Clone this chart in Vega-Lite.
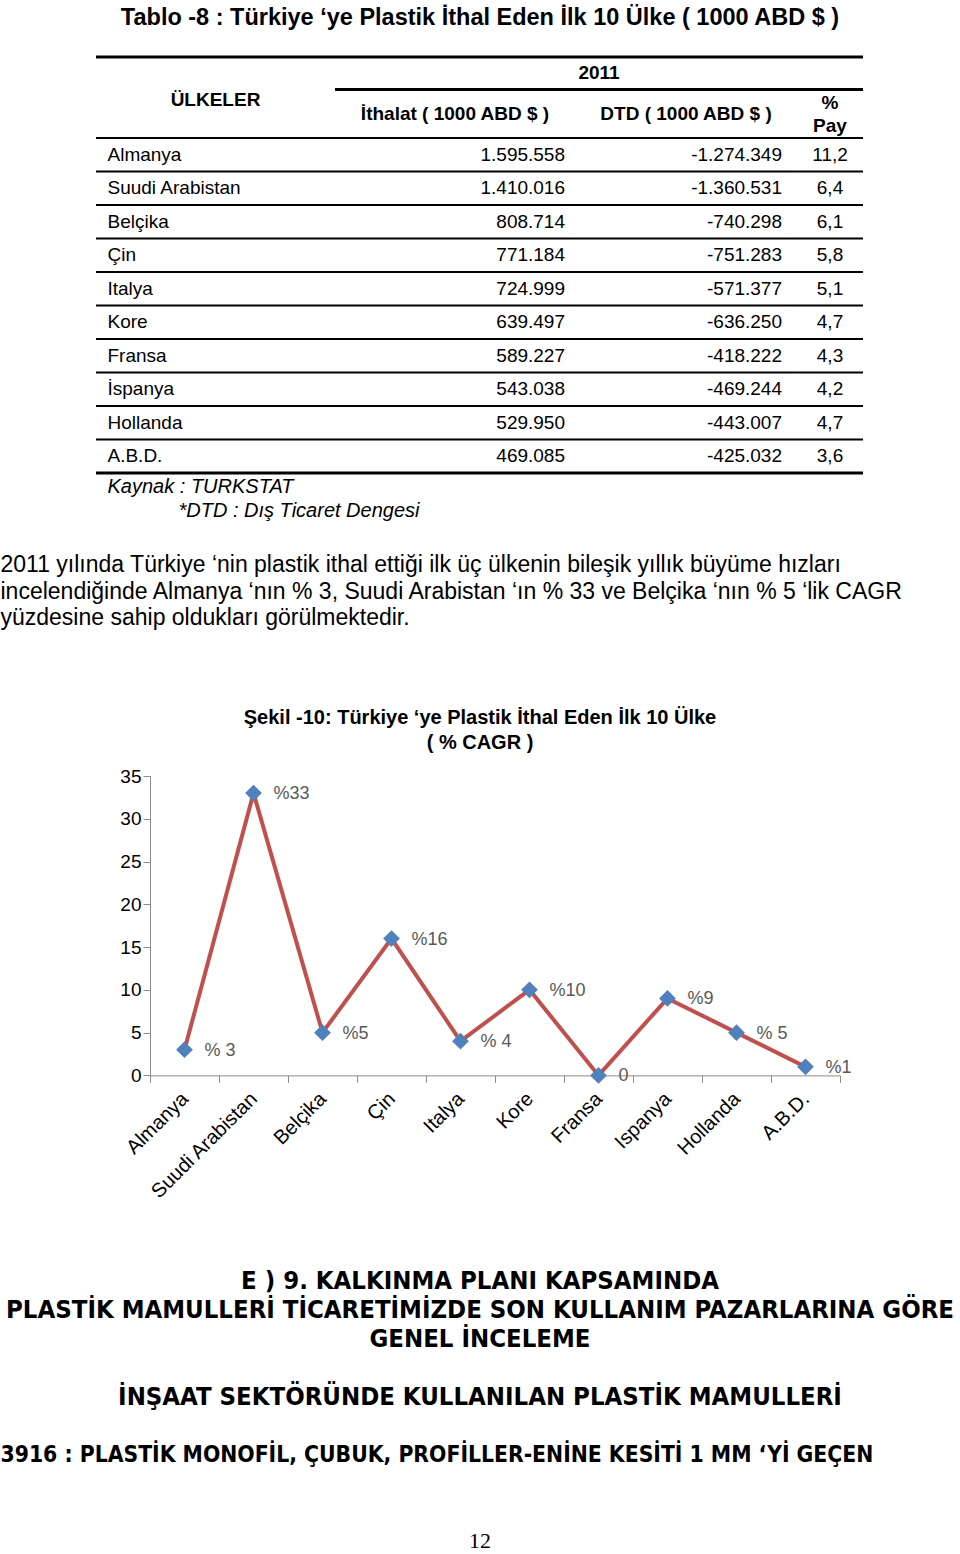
{
  "$schema": "https://vega.github.io/schema/vega-lite/v6.json",
  "background": "#ffffff",
  "padding": 0,
  "spacing": 0,
  "config": {
    "view": {"stroke": null},
    "font": "Liberation Sans",
    "locale": {"number": {"decimal": ",", "thousands": ".", "grouping": [3], "currency": ["", ""], "minus": "-"}},
    "text": {"color": "#000000", "font": "Liberation Sans"},
    "rule": {"color": "#000000"},
    "axis": {"labelFont": "Liberation Sans", "labelColor": "#000000", "grid": false, "title": null}
  },
  "datasets": {
    "tablo": [
      {"ulke": "Almanya", "ithalat": 1595558, "dtd": -1274349, "pay": 11.2},
      {"ulke": "Suudi Arabistan", "ithalat": 1410016, "dtd": -1360531, "pay": 6.4},
      {"ulke": "Belçika", "ithalat": 808714, "dtd": -740298, "pay": 6.1},
      {"ulke": "Çin", "ithalat": 771184, "dtd": -751283, "pay": 5.8},
      {"ulke": "Italya", "ithalat": 724999, "dtd": -571377, "pay": 5.1},
      {"ulke": "Kore", "ithalat": 639497, "dtd": -636250, "pay": 4.7},
      {"ulke": "Fransa", "ithalat": 589227, "dtd": -418222, "pay": 4.3},
      {"ulke": "İspanya", "ithalat": 543038, "dtd": -469244, "pay": 4.2},
      {"ulke": "Hollanda", "ithalat": 529950, "dtd": -443007, "pay": 4.7},
      {"ulke": "A.B.D.", "ithalat": 469085, "dtd": -425032, "pay": 3.6}
    ],
    "cagr": [
      {"ulke": "Almanya", "cagr": 3, "etiket": "% 3"},
      {"ulke": "Suudi Arabistan", "cagr": 33, "etiket": "%33"},
      {"ulke": "Belçika", "cagr": 5, "etiket": "%5"},
      {"ulke": "Çin", "cagr": 16, "etiket": "%16"},
      {"ulke": "Italya", "cagr": 4, "etiket": "% 4"},
      {"ulke": "Kore", "cagr": 10, "etiket": "%10"},
      {"ulke": "Fransa", "cagr": 0, "etiket": "0"},
      {"ulke": "Ispanya", "cagr": 9, "etiket": "%9"},
      {"ulke": "Hollanda", "cagr": 5, "etiket": "% 5"},
      {"ulke": "A.B.D.", "cagr": 1, "etiket": "%1"}
    ]
  },
  "vconcat": [
    {
      "width": 960, "height": 36,
      "data": {"values": [{"baslik": "Tablo -8 : Türkiye ‘ye Plastik İthal Eden İlk 10 Ülke ( 1000 ABD $ )"}]},
      "mark": {"type": "text", "fontSize": 23.5, "fontWeight": "bold"},
      "encoding": {"text": {"field": "baslik"}}
    },
    {"width": 1, "height": 18.5, "data": {"values": [{}]}, "mark": "text", "encoding": {"text": {"value": ""}}},
    {
      "spacing": 0, "bounds": "flush",
      "hconcat": [
        {"width": 96, "height": 32.5, "data": {"values": [{}]}, "mark": "text", "encoding": {"text": {"value": ""}}},
        {
          "width": 239, "height": 32.5,
          "data": {"values": [{"baslik": "ÜLKELER"}]},
          "mark": {"type": "rule", "strokeWidth": 3},
          "encoding": {"y": {"field": "baslik", "type": "nominal", "axis": null, "bandPosition": 0, "scale": {"type": "band", "paddingInner": 0, "paddingOuter": 0}}}
        },
        {
          "width": 528, "height": 32.5,
          "data": {"values": [{"baslik": "2011"}]},
          "encoding": {"y": {"field": "baslik", "type": "nominal", "axis": null, "scale": {"type": "band", "paddingInner": 0, "paddingOuter": 0}}},
          "layer": [
            {"mark": {"type": "text", "fontSize": 19, "fontWeight": "bold"}, "encoding": {"text": {"field": "baslik"}}},
            {"mark": {"type": "rule", "strokeWidth": 3}, "encoding": {"y": {"field": "baslik", "type": "nominal", "axis": null, "bandPosition": 0, "scale": {"type": "band", "paddingInner": 0, "paddingOuter": 0}}}},
            {"mark": {"type": "rule", "strokeWidth": 3}, "encoding": {"y": {"field": "baslik", "type": "nominal", "axis": null, "bandPosition": 1, "scale": {"type": "band", "paddingInner": 0, "paddingOuter": 0}}}}
          ]
        }
      ]
    },
    {
      "spacing": 0, "bounds": "flush",
      "hconcat": [
        {"width": 96, "height": 46, "data": {"values": [{}]}, "mark": "text", "encoding": {"text": {"value": ""}}},
        {
          "width": 239, "height": 46,
          "data": {"values": [{"baslik": "ÜLKELER"}]},
          "mark": {"type": "text", "fontSize": 19, "fontWeight": "bold", "dy": -14},
          "encoding": {"text": {"field": "baslik"}}
        },
        {
          "width": 240, "height": 46,
          "data": {"values": [{"baslik": "İthalat ( 1000 ABD $ )"}]},
          "mark": {"type": "text", "fontSize": 19, "fontWeight": "bold"},
          "encoding": {"text": {"field": "baslik"}}
        },
        {
          "width": 222, "height": 46,
          "data": {"values": [{"baslik": "DTD ( 1000 ABD $ )"}]},
          "mark": {"type": "text", "fontSize": 19, "fontWeight": "bold"},
          "encoding": {"text": {"field": "baslik"}}
        },
        {
          "width": 66, "height": 46,
          "data": {"values": [{"baslik": "%"}, {"baslik": "Pay"}]},
          "mark": {"type": "text", "fontSize": 19, "fontWeight": "bold"},
          "encoding": {
            "y": {"field": "baslik", "type": "nominal", "sort": null, "axis": null, "scale": {"type": "band", "paddingInner": 0, "paddingOuter": 0}},
            "text": {"field": "baslik"}
          }
        }
      ]
    },
    {
      "spacing": 0, "bounds": "flush",
      "data": {"name": "tablo"},
      "hconcat": [
        {"width": 96, "height": 335, "data": {"values": [{}]}, "mark": "text", "encoding": {"text": {"value": ""}}},
        {
          "width": 239, "height": 335,
          "layer": [
            {"mark": {"type": "rule", "strokeWidth": 2},
             "encoding": {"y": {"field": "ulke", "type": "nominal", "bandPosition": 0,
               "scale": {"type": "band", "domain": ["Almanya", "Suudi Arabistan", "Belçika", "Çin", "Italya", "Kore", "Fransa", "İspanya", "Hollanda", "A.B.D."], "paddingInner": 0, "paddingOuter": 0},
               "axis": {"orient": "left", "domain": false, "ticks": false, "labelAlign": "left", "labelBaseline": "middle", "labelPadding": -11, "labelFontSize": 19, "labelColor": "#000000", "labelOverlap": false, "minExtent": 0, "maxExtent": 0, "labelLimit": 300}}}},
            {"transform": [{"filter": "datum.ulke === 'A.B.D.'"}],
             "mark": {"type": "rule", "strokeWidth": 3},
             "encoding": {"y": {"field": "ulke", "type": "nominal", "bandPosition": 1,
               "scale": {"type": "band", "domain": ["Almanya", "Suudi Arabistan", "Belçika", "Çin", "Italya", "Kore", "Fransa", "İspanya", "Hollanda", "A.B.D."], "paddingInner": 0, "paddingOuter": 0},
               "axis": {"orient": "left", "domain": false, "ticks": false, "labelAlign": "left", "labelBaseline": "middle", "labelPadding": -11, "labelFontSize": 19, "labelColor": "#000000", "labelOverlap": false, "minExtent": 0, "maxExtent": 0, "labelLimit": 300}}}}
          ]
        },
        {
          "width": 230, "height": 335,
          "layer": [
            {"mark": {"type": "rule", "strokeWidth": 2}, "encoding": {"y": {"field": "ulke", "type": "nominal", "bandPosition": 0, "axis": null, "scale": {"type": "band", "domain": ["Almanya", "Suudi Arabistan", "Belçika", "Çin", "Italya", "Kore", "Fransa", "İspanya", "Hollanda", "A.B.D."], "paddingInner": 0, "paddingOuter": 0}}}},
            {"transform": [{"filter": "datum.ulke === 'A.B.D.'"}], "mark": {"type": "rule", "strokeWidth": 3}, "encoding": {"y": {"field": "ulke", "type": "nominal", "bandPosition": 1, "axis": null, "scale": {"type": "band", "domain": ["Almanya", "Suudi Arabistan", "Belçika", "Çin", "Italya", "Kore", "Fransa", "İspanya", "Hollanda", "A.B.D."], "paddingInner": 0, "paddingOuter": 0}}}},
            {"mark": {"type": "text", "align": "right", "x": "width", "fontSize": 19}, "encoding": {"y": {"field": "ulke", "type": "nominal", "axis": null, "scale": {"type": "band", "domain": ["Almanya", "Suudi Arabistan", "Belçika", "Çin", "Italya", "Kore", "Fransa", "İspanya", "Hollanda", "A.B.D."], "paddingInner": 0, "paddingOuter": 0}}, "text": {"field": "ithalat", "type": "quantitative", "format": ",d"}}}
          ]
        },
        {
          "width": 10, "height": 335,
          "layer": [
            {"mark": {"type": "rule", "strokeWidth": 2}, "encoding": {"y": {"field": "ulke", "type": "nominal", "bandPosition": 0, "axis": null, "scale": {"type": "band", "domain": ["Almanya", "Suudi Arabistan", "Belçika", "Çin", "Italya", "Kore", "Fransa", "İspanya", "Hollanda", "A.B.D."], "paddingInner": 0, "paddingOuter": 0}}}},
            {"transform": [{"filter": "datum.ulke === 'A.B.D.'"}], "mark": {"type": "rule", "strokeWidth": 3}, "encoding": {"y": {"field": "ulke", "type": "nominal", "bandPosition": 1, "axis": null, "scale": {"type": "band", "domain": ["Almanya", "Suudi Arabistan", "Belçika", "Çin", "Italya", "Kore", "Fransa", "İspanya", "Hollanda", "A.B.D."], "paddingInner": 0, "paddingOuter": 0}}}}
          ]
        },
        {
          "width": 207, "height": 335,
          "layer": [
            {"mark": {"type": "rule", "strokeWidth": 2}, "encoding": {"y": {"field": "ulke", "type": "nominal", "bandPosition": 0, "axis": null, "scale": {"type": "band", "domain": ["Almanya", "Suudi Arabistan", "Belçika", "Çin", "Italya", "Kore", "Fransa", "İspanya", "Hollanda", "A.B.D."], "paddingInner": 0, "paddingOuter": 0}}}},
            {"transform": [{"filter": "datum.ulke === 'A.B.D.'"}], "mark": {"type": "rule", "strokeWidth": 3}, "encoding": {"y": {"field": "ulke", "type": "nominal", "bandPosition": 1, "axis": null, "scale": {"type": "band", "domain": ["Almanya", "Suudi Arabistan", "Belçika", "Çin", "Italya", "Kore", "Fransa", "İspanya", "Hollanda", "A.B.D."], "paddingInner": 0, "paddingOuter": 0}}}},
            {"mark": {"type": "text", "align": "right", "x": "width", "fontSize": 19}, "encoding": {"y": {"field": "ulke", "type": "nominal", "axis": null, "scale": {"type": "band", "domain": ["Almanya", "Suudi Arabistan", "Belçika", "Çin", "Italya", "Kore", "Fransa", "İspanya", "Hollanda", "A.B.D."], "paddingInner": 0, "paddingOuter": 0}}, "text": {"field": "dtd", "type": "quantitative", "format": ",d"}}}
          ]
        },
        {
          "width": 15, "height": 335,
          "layer": [
            {"mark": {"type": "rule", "strokeWidth": 2}, "encoding": {"y": {"field": "ulke", "type": "nominal", "bandPosition": 0, "axis": null, "scale": {"type": "band", "domain": ["Almanya", "Suudi Arabistan", "Belçika", "Çin", "Italya", "Kore", "Fransa", "İspanya", "Hollanda", "A.B.D."], "paddingInner": 0, "paddingOuter": 0}}}},
            {"transform": [{"filter": "datum.ulke === 'A.B.D.'"}], "mark": {"type": "rule", "strokeWidth": 3}, "encoding": {"y": {"field": "ulke", "type": "nominal", "bandPosition": 1, "axis": null, "scale": {"type": "band", "domain": ["Almanya", "Suudi Arabistan", "Belçika", "Çin", "Italya", "Kore", "Fransa", "İspanya", "Hollanda", "A.B.D."], "paddingInner": 0, "paddingOuter": 0}}}}
          ]
        },
        {
          "width": 66, "height": 335,
          "layer": [
            {"mark": {"type": "rule", "strokeWidth": 2}, "encoding": {"y": {"field": "ulke", "type": "nominal", "bandPosition": 0, "axis": null, "scale": {"type": "band", "domain": ["Almanya", "Suudi Arabistan", "Belçika", "Çin", "Italya", "Kore", "Fransa", "İspanya", "Hollanda", "A.B.D."], "paddingInner": 0, "paddingOuter": 0}}}},
            {"transform": [{"filter": "datum.ulke === 'A.B.D.'"}], "mark": {"type": "rule", "strokeWidth": 3}, "encoding": {"y": {"field": "ulke", "type": "nominal", "bandPosition": 1, "axis": null, "scale": {"type": "band", "domain": ["Almanya", "Suudi Arabistan", "Belçika", "Çin", "Italya", "Kore", "Fransa", "İspanya", "Hollanda", "A.B.D."], "paddingInner": 0, "paddingOuter": 0}}}},
            {"mark": {"type": "text", "fontSize": 19}, "encoding": {"y": {"field": "ulke", "type": "nominal", "axis": null, "scale": {"type": "band", "domain": ["Almanya", "Suudi Arabistan", "Belçika", "Çin", "Italya", "Kore", "Fransa", "İspanya", "Hollanda", "A.B.D."], "paddingInner": 0, "paddingOuter": 0}}, "text": {"field": "pay", "type": "quantitative", "format": ".1f"}}}
          ]
        }
      ]
    },
    {
      "spacing": 0, "bounds": "flush",
      "hconcat": [
        {"width": 107, "height": 24, "data": {"values": [{}]}, "mark": "text", "encoding": {"text": {"value": ""}}},
        {"width": 1, "height": 24, "data": {"values": [{"not": "Kaynak : TURKSTAT"}]}, "mark": {"type": "text", "align": "left", "fontStyle": "italic", "fontSize": 20}, "encoding": {"text": {"field": "not"}}}
      ]
    },
    {
      "spacing": 0, "bounds": "flush",
      "hconcat": [
        {"width": 178, "height": 24, "data": {"values": [{}]}, "mark": "text", "encoding": {"text": {"value": ""}}},
        {"width": 1, "height": 24, "data": {"values": [{"not": "*DTD : Dış Ticaret Dengesi"}]}, "mark": {"type": "text", "align": "left", "fontStyle": "italic", "fontSize": 20}, "encoding": {"text": {"field": "not"}}}
      ]
    },
    {"width": 1, "height": 28.5, "data": {"values": [{}]}, "mark": "text", "encoding": {"text": {"value": ""}}},
    {
      "width": 1, "height": 79.5,
      "data": {"values": [
        {"satir": 1, "metin": "2011 yılında Türkiye ‘nin plastik ithal ettiği ilk üç ülkenin bileşik yıllık büyüme hızları"},
        {"satir": 2, "metin": "incelendiğinde Almanya ‘nın % 3, Suudi Arabistan ‘ın % 33 ve Belçika ‘nın % 5 ‘lik CAGR"},
        {"satir": 3, "metin": "yüzdesine sahip oldukları görülmektedir."}
      ]},
      "mark": {"type": "text", "align": "left", "fontSize": 23},
      "encoding": {
        "y": {"field": "satir", "type": "ordinal", "axis": null, "scale": {"type": "band", "paddingInner": 0, "paddingOuter": 0}},
        "text": {"field": "metin"}
      }
    },
    {"width": 1, "height": 73, "data": {"values": [{}]}, "mark": "text", "encoding": {"text": {"value": ""}}},
    {
      "width": 960, "height": 50,
      "data": {"values": [
        {"satir": 1, "metin": "Şekil -10: Türkiye ‘ye Plastik İthal Eden İlk 10 Ülke"},
        {"satir": 2, "metin": "( % CAGR )"}
      ]},
      "mark": {"type": "text", "fontSize": 20, "fontWeight": "bold"},
      "encoding": {
        "y": {"field": "satir", "type": "ordinal", "axis": null, "scale": {"type": "band", "paddingInner": 0, "paddingOuter": 0}},
        "text": {"field": "metin"}
      }
    },
    {"width": 1, "height": 4.5, "data": {"values": [{}]}, "mark": "text", "encoding": {"text": {"value": ""}}},
    {
      "spacing": 0, "bounds": "flush",
      "hconcat": [
        {"width": 150, "height": 299.4, "data": {"values": [{}]}, "mark": "text", "encoding": {"text": {"value": ""}}},
        {
          "width": 690, "height": 299.4,
          "data": {"name": "cagr"},
          "encoding": {
            "x": {"field": "ulke", "type": "nominal", "sort": null,
              "scale": {"type": "band", "paddingInner": 0, "paddingOuter": 0},
              "axis": {"orient": "bottom", "labelAngle": -45, "tickBand": "extent", "tickSize": 7, "tickColor": "#8c8c8c", "domainColor": "#8c8c8c", "labelFontSize": 20, "labelColor": "#000000", "labelPadding": 6, "labelOffset": -7, "labelOverlap": false, "labelLimit": 300}},
            "y": {"field": "cagr", "type": "quantitative",
              "scale": {"domain": [0, 35], "nice": false, "zero": true},
              "axis": {"values": [0, 5, 10, 15, 20, 25, 30, 35], "tickSize": 7, "tickColor": "#8c8c8c", "domainColor": "#8c8c8c", "labelFontSize": 19, "labelColor": "#000000", "labelPadding": 2}}
          },
          "layer": [
            {"mark": {"type": "line", "color": "#C0504D", "strokeWidth": 4}, "encoding": {}},
            {"mark": {"type": "point", "shape": "diamond", "filled": true, "color": "#4F81BD", "size": 280, "opacity": 1}},
            {"mark": {"type": "text", "align": "left", "dx": 20, "dy": 1, "fontSize": 18, "color": "#595959"}, "encoding": {"text": {"field": "etiket"}}}
          ]
        }
      ]
    },
    {"width": 1, "height": 63, "data": {"values": [{}]}, "mark": "text", "encoding": {"text": {"value": ""}}},
    {
      "width": 960, "height": 174,
      "data": {"values": [
        {"satir": 1, "metin": "E ) 9. KALKINMA PLANI KAPSAMINDA"},
        {"satir": 2, "metin": "PLASTİK MAMULLERİ TİCARETİMİZDE SON KULLANIM PAZARLARINA GÖRE"},
        {"satir": 3, "metin": "GENEL İNCELEME"},
        {"satir": 5, "metin": "İNŞAAT SEKTÖRÜNDE KULLANILAN PLASTİK MAMULLERİ"}
      ]},
      "mark": {"type": "text", "fontSize": 25.5, "fontWeight": "bold", "font": "DejaVu Sans Condensed"},
      "encoding": {
        "y": {"field": "satir", "type": "ordinal", "axis": null, "scale": {"type": "band", "domain": [1, 2, 3, 4, 5, 6], "paddingInner": 0, "paddingOuter": 0}},
        "text": {"field": "metin"}
      }
    },
    {
      "width": 1, "height": 29,
      "data": {"values": [{"metin": "3916 : PLASTİK MONOFİL, ÇUBUK, PROFİLLER-ENİNE KESİTİ 1 MM ‘Yİ GEÇEN"}]},
      "mark": {"type": "text", "align": "left", "fontSize": 22.7, "fontWeight": "bold", "font": "DejaVu Sans Condensed"},
      "encoding": {"text": {"field": "metin"}}
    },
    {"width": 1, "height": 61, "data": {"values": [{}]}, "mark": "text", "encoding": {"text": {"value": ""}}},
    {
      "width": 960, "height": 22,
      "data": {"values": [{"sayfa": "12"}]},
      "mark": {"type": "text", "fontSize": 22, "font": "Liberation Serif"},
      "encoding": {"text": {"field": "sayfa"}}
    }
  ]
}
